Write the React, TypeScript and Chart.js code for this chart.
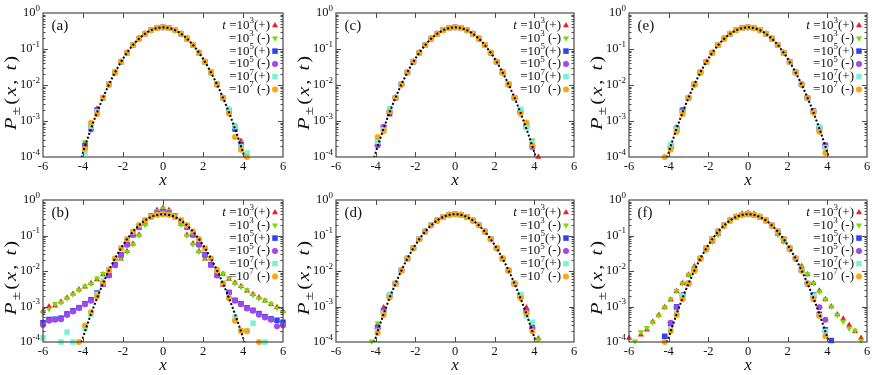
import React, { useEffect, useRef } from 'react';
import { Chart, registerables } from 'chart.js';

Chart.register(...registerables);

const FONT = '"Liberation Serif", "Times New Roman", Times, serif';

// ---------- data ----------
const xGrid = [
  -6.0, -5.7, -5.4, -5.1, -4.8, -4.5, -4.2, -3.9, -3.6, -3.3,
  -3.0, -2.7, -2.4, -2.1, -1.8, -1.5, -1.2, -0.9, -0.6, -0.3, 0.0,
  0.3, 0.6, 0.9, 1.2, 1.5, 1.8, 2.1, 2.4, 2.7, 3.0,
  3.3, 3.6, 3.9, 4.2, 4.5, 4.8, 5.1, 5.4, 5.7, 6.0,
];

// Gaussian reference curve (dotted)
const gaussX = [
  -4.2, -4.0, -3.8, -3.6, -3.4, -3.2, -3.0, -2.8, -2.6, -2.4, -2.2, -2.0, -1.8, -1.6, -1.4,
  -1.2, -1.0, -0.8, -0.6, -0.4, -0.2, 0.0, 0.2, 0.4, 0.6, 0.8, 1.0, 1.2, 1.4, 1.6, 1.8,
  2.0, 2.2, 2.4, 2.6, 2.8, 3.0, 3.2, 3.4, 3.6, 3.8, 4.0, 4.2,
];
const gaussY = [
  5.89e-5, 1.338e-4, 2.919e-4, 6.119e-4, 1.232e-3, 2.384e-3, 4.432e-3, 7.915e-3, 1.358e-2,
  2.239e-2, 3.547e-2, 5.399e-2, 7.895e-2, 0.1109, 0.1497, 0.1942, 0.242, 0.2897, 0.3332,
  0.3683, 0.391, 0.3989, 0.391, 0.3683, 0.3332, 0.2897, 0.242, 0.1942, 0.1497, 0.1109,
  7.895e-2, 5.399e-2, 3.547e-2, 2.239e-2, 1.358e-2, 7.915e-3, 4.432e-3, 2.384e-3, 1.232e-3,
  6.119e-4, 2.919e-4, 1.338e-4, 5.89e-5,
];

// shared central values (x = -3.0 ... 3.0) for the near-Gaussian series
const coreGauss = [
  0.00443, 0.0104, 0.0224, 0.044, 0.079, 0.1295, 0.1942, 0.2661, 0.3332, 0.3814, 0.3989,
  0.3814, 0.3332, 0.2661, 0.1942, 0.1295, 0.079, 0.044, 0.0224, 0.0104, 0.00443,
];

// tails: left x = -4.2,-3.9,-3.6,-3.3 ; right x = 3.3,3.6,3.9,4.2
// rows: 10^3(+), 10^3(-), 10^5(+), 10^5(-), 10^7(+), 10^7(-)
const aLeft = [
  [null, 2.1e-4, 7.0e-4, 2.2e-3],
  [null, 2.6e-4, 7.0e-4, 1.9e-3],
  [null, 2.1e-4, 6.5e-4, 2.0e-3],
  [null, 1.9e-4, 5.8e-4, 1.9e-3],
  [null, 1.3e-4, 7.0e-4, 1.8e-3],
  [null, 1.7e-4, 9.0e-4, 1.55e-3],
];
const aRight = [
  [2.1e-3, 6.5e-4, 2.8e-4, null],
  [1.9e-3, 6.8e-4, 2.5e-4, null],
  [1.9e-3, 6.0e-4, 2.2e-4, null],
  [1.8e-3, 7.2e-4, 2.0e-4, null],
  [2.1e-3, 7.0e-4, 1.9e-4, 1.3e-4],
  [1.6e-3, 3.6e-4, 1.6e-4, 1.0e-4],
];
const cLeft = [
  [null, 2.3e-4, 6.5e-4, 1.8e-3],
  [null, 2.5e-4, 6.8e-4, 1.9e-3],
  [null, 2.3e-4, 6.5e-4, 1.6e-3],
  [null, 2.1e-4, 6.9e-4, 1.8e-3],
  [null, 2.7e-4, 5.8e-4, 2.2e-3],
  [null, 3.6e-4, 5.2e-4, 1.8e-3],
];
const cRight = [
  [1.8e-3, 7.5e-4, 2.3e-4, 1.0e-4],
  [1.9e-3, 7.0e-4, 2.9e-4, null],
  [1.9e-3, 7.0e-4, 2.2e-4, null],
  [1.8e-3, 7.5e-4, 1.9e-4, null],
  [2.1e-3, 6.6e-4, 2.5e-4, null],
  [1.6e-3, 9.1e-4, 2.1e-4, null],
];
const dLeft = [
  [null, 2.6e-4, 9.3e-4, 2.0e-3],
  [1.05e-4, 3.4e-4, 8.0e-4, 2.0e-3],
  [null, 2.6e-4, 7.5e-4, 2.0e-3],
  [null, 2.4e-4, 7.5e-4, 2.0e-3],
  [null, 2.0e-4, 6.5e-4, 2.2e-3],
  [null, 1.8e-4, 5.8e-4, 1.8e-3],
];
const dRight = [
  [2.0e-3, 9.3e-4, 2.6e-4, 1.25e-4],
  [1.9e-3, 7.5e-4, 2.4e-4, 1.2e-4],
  [2.0e-3, 7.0e-4, 2.6e-4, null],
  [1.9e-3, 7.5e-4, 2.5e-4, null],
  [2.2e-3, 5.5e-4, 3.6e-4, null],
  [1.7e-3, 6.5e-4, 2.0e-4, null],
];
const eLeft = [
  [null, 2.0e-4, 6.5e-4, 1.9e-3],
  [null, 2.2e-4, 6.0e-4, 1.8e-3],
  [null, 2.0e-4, 6.0e-4, 2.0e-3],
  [null, 1.9e-4, 6.5e-4, 2.0e-3],
  [null, 2.2e-4, 6.0e-4, 1.7e-3],
  [1.0e-4, 1.6e-4, 5.0e-4, 1.55e-3],
];
const eRight = [
  [1.8e-3, 6.5e-4, 2.0e-4, null],
  [1.8e-3, 6.3e-4, 1.9e-4, null],
  [1.9e-3, 6.0e-4, 2.1e-4, null],
  [1.9e-3, 6.5e-4, 2.1e-4, null],
  [1.8e-3, 6.9e-4, 1.8e-4, null],
  [1.7e-3, 5.0e-4, 1.3e-4, null],
];
const fLeft = [
  [null, null, null, null],
  [null, null, null, null],
  [1.45e-4, 3.3e-4, 9.8e-4, 2.0e-3],
  [null, 3.5e-4, 9.3e-4, 2.1e-3],
  [null, 2.3e-4, 6.5e-4, 2.0e-3],
  [1.0e-4, 2.0e-4, 5.8e-4, 1.6e-3],
];
const fRight = [
  [null, null, null, null],
  [null, null, null, null],
  [2.1e-3, 6.0e-4, 2.2e-4, 1.1e-4],
  [1.9e-3, 9.5e-4, 4.2e-4, null],
  [2.0e-3, 5.5e-4, 2.0e-4, null],
  [1.6e-3, 5.5e-4, 1.45e-4, null],
];

// panel (b): full series on xGrid
const bRed3 = [
  7.5e-4, 1.0e-3, 1.05e-3, 1.35e-3, 1.75e-3, 2.3e-3, 3.0e-3, 3.6e-3, 4.5e-3, 5.8e-3,
  8.0e-3, 1.1e-2, 1.5e-2, 2.2e-2, 3.6e-2, 5.9e-2, 0.105, 0.21, 0.34, 0.52, 0.6,
  0.52, 0.34, 0.21, 0.105, 0.06, 0.036, 0.022, 0.015, 0.011, 8.2e-3,
  6.0e-3, 4.7e-3, 3.7e-3, 2.8e-3, 2.2e-3, 1.8e-3, 1.45e-3, 1.15e-3, 9.5e-4, 7.4e-4,
];
const bGreen3 = [
  6.6e-4, 8.5e-4, 1.2e-3, 1.3e-3, 1.7e-3, 2.2e-3, 2.9e-3, 3.7e-3, 4.4e-3, 6.2e-3,
  8.3e-3, 1.15e-2, 1.55e-2, 2.3e-2, 3.5e-2, 5.7e-2, 0.1, 0.2, 0.34, 0.5, 0.58,
  0.5, 0.34, 0.2, 0.1, 0.057, 0.035, 0.023, 0.016, 0.0115, 8.5e-3,
  6.2e-3, 4.5e-3, 3.6e-3, 2.9e-3, 2.1e-3, 1.7e-3, 1.5e-3, 1.2e-3, 9.0e-4, 6.8e-4,
];
const bBlue5 = [
  3.5e-4, 4.3e-4, 4.4e-4, 4.7e-4, 6.2e-4, 7.6e-4, 9.3e-4, 1.2e-3, 1.55e-3, 2.4e-3,
  4.3e-3, 7.8e-3, 1.5e-2, 2.9e-2, 5.6e-2, 0.105, 0.175, 0.265, 0.35, 0.42, 0.46,
  0.42, 0.35, 0.265, 0.175, 0.105, 0.056, 0.029, 0.015, 7.8e-3, 4.3e-3,
  2.5e-3, 1.5e-3, 1.2e-3, 9.2e-4, 7.8e-4, 6.3e-4, 5.2e-4, 4.5e-4, 4.1e-4, 3.6e-4,
];
const bPurple5 = [
  3.0e-4, 4.0e-4, 4.2e-4, 4.4e-4, 5.8e-4, 7.2e-4, 9.0e-4, 1.15e-3, 1.45e-3, 2.2e-3,
  4.2e-3, 7.5e-3, 1.45e-2, 2.8e-2, 5.5e-2, 0.105, 0.17, 0.26, 0.35, 0.42, 0.45,
  0.42, 0.35, 0.26, 0.17, 0.105, 0.055, 0.028, 0.0145, 7.5e-3, 4.2e-3,
  2.4e-3, 1.45e-3, 1.15e-3, 8.8e-4, 7.6e-4, 5.9e-4, 4.9e-4, 4.2e-4, 2.8e-4, 2.9e-4,
];
const bCyan7 = [
  1.3e-4, null, null, 1.0e-4, 1.9e-4, 1.0e-4, null, 2.4e-4, 6.0e-4, 2.2e-3,
  5.3e-3, 1.05e-2, 0.0224, 0.044, 0.079, 0.1295, 0.1942, 0.2661, 0.3332, 0.3814, 0.3989,
  0.3814, 0.3332, 0.2661, 0.1942, 0.1295, 0.079, 0.044, 0.0224, 0.0104, 4.6e-3,
  1.8e-3, 5.0e-4, 2.0e-4, 2.1e-4, 3.4e-4, null, 1.0e-4, null, null, null,
];
const bOrange7 = [
  null, null, null, null, null, null, 1.0e-4, 2.9e-4, 7.0e-4, 1.9e-3,
  4.6e-3, 1.04e-2, 0.0224, 0.044, 0.079, 0.1295, 0.1942, 0.2661, 0.3332, 0.3814, 0.3989,
  0.3814, 0.3332, 0.2661, 0.1942, 0.1295, 0.079, 0.044, 0.0224, 0.0104, 4.4e-3,
  1.7e-3, 4.0e-4, 2.1e-4, 2.0e-4, null, 1.0e-4, null, null, null, null,
];

// panel (f): 10^3 series on xGrid
const fRed3 = [
  1.3e-4, null, 1.6e-4, 2.2e-4, 3.7e-4, 5.8e-4, 9.5e-4, 1.55e-3, 2.7e-3, 4.5e-3,
  7.8e-3, 1.35e-2, 2.3e-2, 4.0e-2, 6.8e-2, 0.11, 0.18, 0.27, 0.35, 0.41, 0.43,
  0.41, 0.35, 0.27, 0.18, 0.11, 0.068, 0.04, 0.023, 0.0135, 8.0e-3,
  4.5e-3, 2.8e-3, 1.6e-3, 1.0e-3, 6.0e-4, 4.5e-4, 3.0e-4, 2.0e-4, 1.3e-4, null,
];
const fGreen3 = [
  null, 1.05e-4, 1.9e-4, 2.5e-4, 3.6e-4, 5.6e-4, 9.5e-4, 1.6e-3, 2.8e-3, 4.5e-3,
  8.0e-3, 1.3e-2, 2.2e-2, 3.9e-2, 6.7e-2, 0.105, 0.18, 0.27, 0.35, 0.41, 0.44,
  0.41, 0.35, 0.27, 0.18, 0.105, 0.067, 0.039, 0.022, 0.013, 8.2e-3,
  4.5e-3, 2.6e-3, 1.6e-3, 1.0e-3, 5.8e-4, 3.8e-4, 2.4e-4, 2.1e-4, 1.1e-4, null,
];

const xTickValues = [-6, -4, -2, 0, 2, 4, 6];
const yExponents = [0, -1, -2, -3, -4];
const legendExponents = ['3', '3', '5', '5', '7', '7'];
const legendSuffixes = ['(+)', ' (-)', '(+)', ' (-)', '(+)', ' (-)'];
const seriesColors = ['#f41c1c', '#70e000', '#2a44f4', '#a346ee', '#7af3d3', '#ffa512'];
const seriesShapes = ['triangle', 'triangle', 'rect', 'circle', 'rect', 'circle'];
const seriesRotations = [0, 180, 0, 0, 0, 0];
const seriesRadii = [3.5, 3.5, 3.9, 3.0, 3.9, 3.0];

// ---------- layout ----------
const colLefts = [0, 293, 586];
const colWidths = [288, 286, 286];
const rowTops = [0, 187];
const rowHeights = [186, 188];
const rowPadBottom = [29, 33];

type Val = number | null;

function withTails(left: Val[], right: Val[]): Val[] {
  const pad: Val[] = [null, null, null, null, null, null];
  return [...pad, ...left, ...coreGauss, ...right, ...pad];
}

function buildSeries(L: Val[][], R: Val[][]): Val[][] {
  return L.map((l, i) => withTails(l, R[i]));
}

const panels = [
  { label: '(a)', col: 0, row: 0, series: buildSeries(aLeft, aRight) },
  { label: '(b)', col: 0, row: 1, series: [bRed3, bGreen3, bBlue5, bPurple5, bCyan7, bOrange7] },
  { label: '(c)', col: 1, row: 0, series: buildSeries(cLeft, cRight) },
  { label: '(d)', col: 1, row: 1, series: buildSeries(dLeft, dRight) },
  { label: '(e)', col: 2, row: 0, series: buildSeries(eLeft, eRight) },
  {
    label: '(f)', col: 2, row: 1,
    series: [fRed3, fGreen3, ...buildSeries(fLeft, fRight).slice(2)],
  },
];

function toPoints(vals: Val[]) {
  const out: { x: number; y: number }[] = [];
  vals.forEach((v, i) => {
    if (v !== null && v !== undefined) out.push({ x: xGrid[i], y: v });
  });
  return out;
}

function drawMarker(ctx: CanvasRenderingContext2D, k: number, x: number, y: number) {
  const r = seriesRadii[k];
  ctx.fillStyle = seriesColors[k];
  ctx.beginPath();
  const shape = seriesShapes[k];
  if (shape === 'circle') {
    ctx.arc(x, y, r, 0, Math.PI * 2);
  } else if (shape === 'rect') {
    const s = r * Math.SQRT1_2;
    ctx.rect(x - s, y - s, 2 * s, 2 * s);
  } else {
    let rad = (seriesRotations[k] * Math.PI) / 180;
    for (let j = 0; j < 3; j++) {
      const px = x + Math.sin(rad) * r;
      const py = y - Math.cos(rad) * r;
      if (j === 0) ctx.moveTo(px, py);
      else ctx.lineTo(px, py);
      rad += (2 * Math.PI) / 3;
    }
    ctx.closePath();
  }
  ctx.fill();
}

type Piece = { t: string; f: string; dy: number };

function drawPieces(ctx: CanvasRenderingContext2D, pieces: Piece[], x0: number, y0: number, gap = 0) {
  let x = x0;
  for (const p of pieces) {
    ctx.font = p.f;
    ctx.fillText(p.t, x, y0 + p.dy);
    x += ctx.measureText(p.t).width + gap;
  }
}

function measurePieces(ctx: CanvasRenderingContext2D, pieces: Piece[]) {
  let w = 0;
  for (const p of pieces) {
    ctx.font = p.f;
    w += ctx.measureText(p.t).width;
  }
  return w;
}

function drawDecor(chart: any, label: string) {
  const ctx: CanvasRenderingContext2D = chart.ctx;
  const a = chart.chartArea;
  const xs = chart.scales.x;
  const ys = chart.scales.y;
  ctx.save();

  // frame
  ctx.strokeStyle = '#4a4a4a';
  ctx.lineWidth = 1.2;
  ctx.strokeRect(a.left, a.top, a.right - a.left, a.bottom - a.top);

  // ticks
  ctx.lineWidth = 1;
  ctx.beginPath();
  for (const t of xTickValues) {
    if (t <= -6 || t >= 6) continue;
    const px = Math.round(xs.getPixelForValue(t)) + 0.5;
    ctx.moveTo(px, a.bottom);
    ctx.lineTo(px, a.bottom - 5);
    ctx.moveTo(px, a.top);
    ctx.lineTo(px, a.top + 5);
  }
  for (const e of yExponents) {
    if (e === 0 || e === -4) continue;
    const py = Math.round(ys.getPixelForValue(Math.pow(10, e))) + 0.5;
    ctx.moveTo(a.left, py);
    ctx.lineTo(a.left + 5, py);
    ctx.moveTo(a.right, py);
    ctx.lineTo(a.right - 5, py);
  }
  for (let e = -4; e < 0; e++) {
    for (let m = 2; m <= 9; m++) {
      const py = Math.round(ys.getPixelForValue(m * Math.pow(10, e))) + 0.5;
      ctx.moveTo(a.left, py);
      ctx.lineTo(a.left + 2.5, py);
      ctx.moveTo(a.right, py);
      ctx.lineTo(a.right - 2.5, py);
    }
  }
  ctx.stroke();

  ctx.fillStyle = '#111';
  // x tick labels
  ctx.font = `12.5px ${FONT}`;
  ctx.textAlign = 'center';
  ctx.textBaseline = 'middle';
  for (const t of xTickValues) {
    ctx.fillText(String(t), xs.getPixelForValue(t), a.bottom + 9.5);
  }

  // y tick labels 10^e
  ctx.textAlign = 'right';
  for (const e of yExponents) {
    const py = ys.getPixelForValue(Math.pow(10, e));
    const exp = String(e);
    ctx.font = `9px ${FONT}`;
    const ew = ctx.measureText(exp).width;
    ctx.fillText(exp, a.left - 3, py - 4.5);
    ctx.font = `12.5px ${FONT}`;
    ctx.fillText('10', a.left - 3 - ew, py);
  }

  // x axis title
  ctx.textAlign = 'center';
  ctx.font = `italic 17px ${FONT}`;
  ctx.fillText('x', (a.left + a.right) / 2, a.bottom + 23.5);

  // y axis title  P±(x, t)
  ctx.save();
  ctx.translate(a.left - 27, a.bottom - 27);
  ctx.rotate(-Math.PI / 2);
  ctx.textAlign = 'left';
  ctx.textBaseline = 'alphabetic';
  const yt: Piece[] = [
    { t: 'P', f: `italic 17px ${FONT}`, dy: 0 },
    { t: '±', f: `13px ${FONT}`, dy: 4 },
    { t: '(', f: `17px ${FONT}`, dy: 0 },
    { t: 'x', f: `italic 17px ${FONT}`, dy: 0 },
    { t: ',', f: `17px ${FONT}`, dy: 0 },
    { t: ' ', f: `17px ${FONT}`, dy: 0 },
    { t: 't', f: `italic 17px ${FONT}`, dy: 0 },
    { t: ')', f: `17px ${FONT}`, dy: 0 },
  ];
  const stretch = 1.2;
  const tw = measurePieces(ctx, yt) * stretch;
  const gap = Math.max(0, (74 - tw) / (yt.length - 1)) / stretch;
  ctx.scale(stretch, 1);
  drawPieces(ctx, yt, 0, 0, gap);
  ctx.restore();

  // panel label
  ctx.textAlign = 'left';
  ctx.textBaseline = 'middle';
  ctx.font = `15px ${FONT}`;
  ctx.fillText(label, a.left + 8.5, a.top + 13);

  // legend
  for (let i = 0; i < 6; i++) {
    const y = a.top + 12.5 + i * 12.8;
    const pieces: Piece[] = [];
    if (i === 0) {
      pieces.push({ t: 't', f: `italic 13px ${FONT}`, dy: 0 });
      pieces.push({ t: ' ', f: `13px ${FONT}`, dy: 0 });
    }
    pieces.push({ t: '=10', f: `13px ${FONT}`, dy: 0 });
    pieces.push({ t: legendExponents[i], f: `9px ${FONT}`, dy: -4.5 });
    pieces.push({ t: legendSuffixes[i], f: `13px ${FONT}`, dy: 0 });
    const w = measurePieces(ctx, pieces);
    ctx.fillStyle = '#111';
    drawPieces(ctx, pieces, a.right - 13 - w, y);
    drawMarker(ctx, i, a.right - 8, y);
  }

  ctx.restore();
}

function makeConfig(p: (typeof panels)[number]): any {
  const markerSets = p.series.map((vals, k) => ({
    label: `s${k}`,
    data: toPoints(vals),
    pointStyle: seriesShapes[k],
    pointRotation: seriesRotations[k],
    pointRadius: seriesRadii[k],
    pointBackgroundColor: seriesColors[k],
    pointBorderColor: seriesColors[k],
    pointBorderWidth: 0,
    borderWidth: 0,
    showLine: false,
    clip: false,
    order: 6 - k,
  }));
  const gaussSet = {
    label: 'gauss',
    data: gaussX.map((x, i) => ({ x, y: gaussY[i] })),
    showLine: true,
    borderColor: '#000',
    borderWidth: 2,
    borderDash: [2, 2],
    pointRadius: 0,
    fill: false,
    tension: 0,
    clip: 0,
    order: 0,
  };
  return {
    type: 'scatter',
    data: { datasets: [gaussSet, ...markerSets] },
    options: {
      responsive: false,
      animation: false,
      devicePixelRatio: 1,
      events: [],
      layout: { padding: { left: 43, right: 5, top: 13, bottom: rowPadBottom[p.row] } },
      plugins: { legend: { display: false }, tooltip: { enabled: false }, title: { display: false } },
      scales: {
        x: { type: 'linear', min: -6, max: 6, display: false },
        y: { type: 'logarithmic', min: 1e-4, max: 1, display: false },
      },
    },
    plugins: [{ id: 'decor' + p.label.replace(/[()]/g, ''), afterDraw: (chart: any) => drawDecor(chart, p.label) }],
  };
}

export default function App() {
  const refs = useRef<(HTMLCanvasElement | null)[]>([]);
  useEffect(() => {
    const charts = panels.map((p, i) => new Chart(refs.current[i] as HTMLCanvasElement, makeConfig(p)));
    return () => charts.forEach((c) => c.destroy());
  }, []);
  return (
    <div style={{ position: 'absolute', left: 0, top: 0, width: 872, height: 375, background: '#fff' }}>
      {panels.map((p, i) => (
        <canvas
          key={p.label}
          ref={(el) => {
            refs.current[i] = el;
          }}
          width={colWidths[p.col]}
          height={rowHeights[p.row]}
          style={{
            position: 'absolute',
            left: colLefts[p.col],
            top: rowTops[p.row],
            width: colWidths[p.col],
            height: rowHeights[p.row],
          }}
        />
      ))}
    </div>
  );
}
